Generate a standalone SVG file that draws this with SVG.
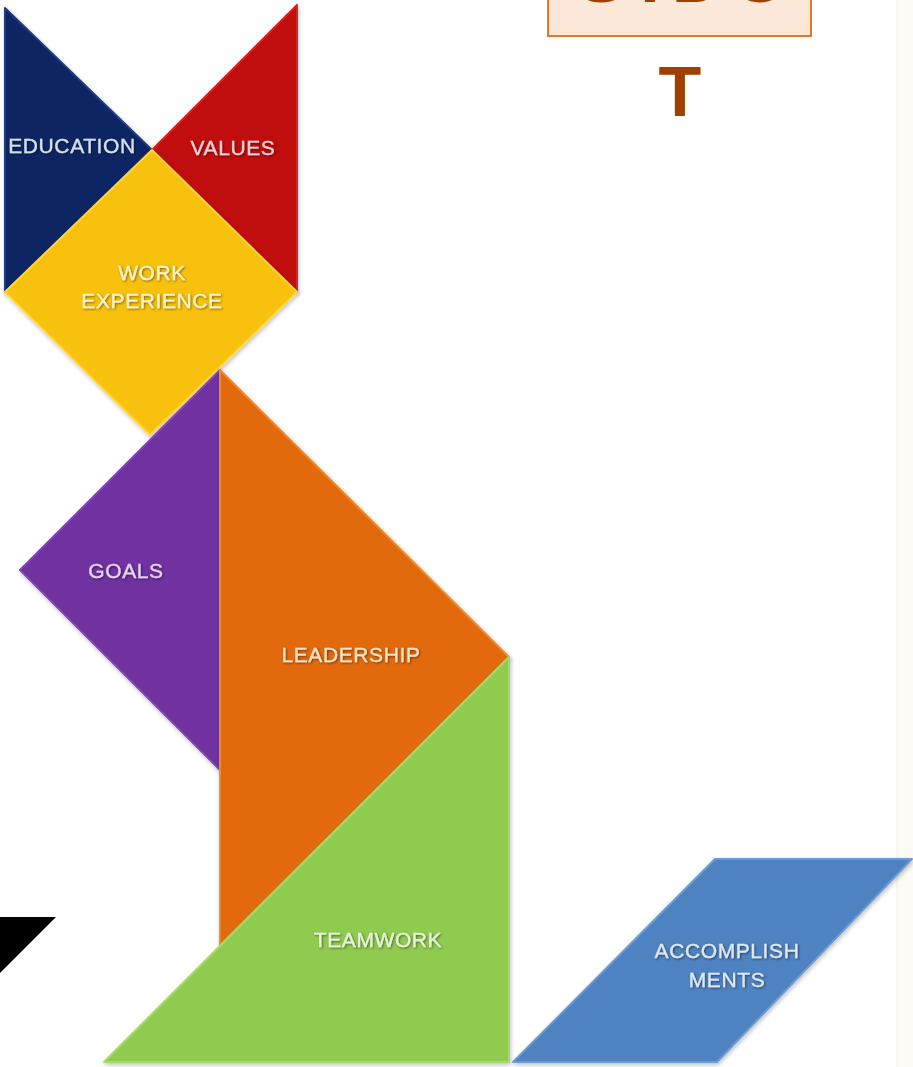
<svg xmlns="http://www.w3.org/2000/svg" width="913" height="1067" viewBox="0 0 913 1067">
<defs>
<filter id="sh" x="-10%" y="-10%" width="120%" height="120%">
<feDropShadow dx="1" dy="2" stdDeviation="2" flood-color="#000" flood-opacity="0.25"/>
</filter>
<filter id="tsh" x="-10%" y="-30%" width="120%" height="160%">
<feDropShadow dx="1" dy="1" stdDeviation="0.8" flood-color="#000" flood-opacity="0.5"/>
</filter>
</defs>
<style>
.lbl{font-family:"Liberation Sans",Arial,sans-serif;font-size:21px;letter-spacing:0.6px;text-anchor:middle;filter:url(#tsh);stroke-width:0.3px}
.pc{filter:url(#sh);stroke-width:2;stroke-linejoin:round}
.big{font-family:"Liberation Sans",Arial,sans-serif;font-weight:bold;font-size:70px;fill:#A04000;text-anchor:middle}
</style>
<rect x="0" y="0" width="913" height="1067" fill="#FFFFFF"/>
<rect x="897" y="0" width="16" height="1067" fill="#FDFBF6"/>
<line x1="897" y1="0" x2="897" y2="1067" stroke="#F1EEE8" stroke-width="1"/>

<g id="title">
<rect x="548" y="-10" width="263" height="46" fill="#FCE8D8" stroke="#E87722" stroke-width="2"/>
<text class="big" x="601" y="1.5">S</text>
<text class="big" x="650" y="1.5">T</text>
<text class="big" x="697" y="1.5">D</text>
<text class="big" x="760" y="1.5">U</text>
<text class="big" x="680" y="116">T</text>
</g>

<g id="education">
<polygon class="pc" points="5,8 152,150 5,292" fill="#102664" stroke="#1E3A82"/>
<text class="lbl" x="72" y="153" fill="#D4E0EE" stroke="#D4E0EE">EDUCATION</text>
</g>
<g id="values">
<polygon class="pc" points="297,5 297,292 152,150" fill="#C00A0A" stroke="#D82020"/>
<text class="lbl" x="233" y="155" fill="#F6D2D2" stroke="#F6D2D2">VALUES</text>
</g>
<g id="work-experience">
<polygon class="pc" points="152,150 297,292 150,435 5,292" fill="#F8C10C" stroke="#FFD63A"/>
<text class="lbl" x="152" y="280" fill="#FFF2C8" stroke="#FFF2C8">WORK</text>
<text class="lbl" x="152" y="308" fill="#FFF2C8" stroke="#FFF2C8">EXPERIENCE</text>
</g>
<g id="goals">
<polygon class="pc" points="220,370 220,770 20,570" fill="#7030A0" stroke="#8445B5"/>
<text class="lbl" x="126" y="578" fill="#E6D2F4" stroke="#E6D2F4">GOALS</text>
</g>
<g id="leadership">
<polygon class="pc" points="220,370 509,657 220,945" fill="#E26B0E" stroke="#F28A2A"/>
<text class="lbl" x="351" y="662" fill="#FDE2C6" stroke="#FDE2C6">LEADERSHIP</text>
</g>
<g id="teamwork">
<polygon class="pc" points="509,657 509,1062 104,1062" fill="#8FCB50" stroke="#A6DA68"/>
<text class="lbl" x="378" y="947" fill="#E6F4D8" stroke="#E6F4D8">TEAMWORK</text>
</g>
<g id="accomplishments">
<polygon class="pc" points="715,859 912,859 717,1062 513,1062" fill="#4F82C0" stroke="#6C9CD4"/>
<text class="lbl" x="727" y="958" fill="#DDE8F5" stroke="#DDE8F5">ACCOMPLISH</text>
<text class="lbl" x="727" y="987" fill="#DDE8F5" stroke="#DDE8F5">MENTS</text>
</g>
<g id="black-piece">
<polygon points="0,917 56,917 0,973" fill="#000000"/>
</g>
<g id="connectors"/>
</svg>
